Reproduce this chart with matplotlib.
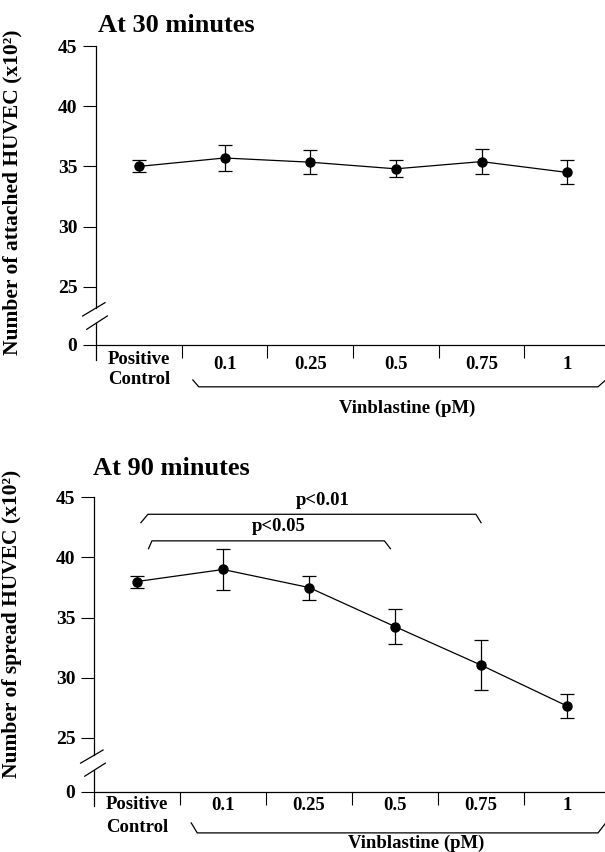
import matplotlib
matplotlib.use("Agg")
import matplotlib.pyplot as plt
import matplotlib.transforms as mtransforms

plt.rcParams["font.family"] = ["Liberation Serif", "DejaVu Serif"]
plt.rcParams["font.weight"] = "bold"
plt.rcParams["axes.labelweight"] = "bold"

categories = ["Positive\nControl", "0.1", "0.25", "0.5", "0.75", "1"]
attached_mean = [35.0, 35.7, 35.35, 34.8, 35.4, 34.5]
attached_err = [0.5, 1.05, 1.0, 0.7, 1.05, 1.0]
spread_mean = [38.0, 39.0, 37.5, 34.25, 31.05, 27.65]
spread_err = [0.5, 1.7, 1.0, 1.45, 2.1, 1.0]
ytick_vals = [25, 30, 35, 40, 45]

fig = plt.figure(figsize=(6.05, 8.52), dpi=100)


def draw_panel(rect, mean, err, title, ylabel, zero_pos, title_xy, lab):
    ax = fig.add_axes(rect)
    x = list(range(len(mean)))
    ax.errorbar(x, mean, yerr=err, color="black", lw=0.9, marker="o",
                ms=6.5, capsize=5, capthick=0.9, elinewidth=0.9)
    ax.set_xlim(-0.5, 5.5)
    ax.set_ylim(zero_pos, 45)

    for s in ["top", "right", "left"]:
        ax.spines[s].set_visible(False)
    ax.spines["bottom"].set_linewidth(0.9)

    ax.set_yticks([zero_pos] + ytick_vals)
    ax.set_yticklabels(["0"] + [str(v) for v in ytick_vals], fontsize=14)
    ax.set_xticks([0.5, 1.5, 2.5, 3.5, 4.5])
    ax.set_xticklabels([])
    ax.tick_params(axis="both", length=9.4, width=0.8, direction="out")
    ax.tick_params(axis="y", pad=4)

    # y axis with a break
    t = ax.transAxes
    ax.plot([0, 0], [1, 0.1236], color="black", lw=0.9, transform=t, clip_on=False)
    ax.plot([0, 0], [0.0725, -0.05], color="black", lw=0.9, transform=t, clip_on=False)
    ax.plot([-0.026, 0.0175], [0.097, 0.1415], color="black", lw=0.9, transform=t, clip_on=False)
    ax.plot([-0.018, 0.022], [0.0525, 0.097], color="black", lw=0.9, transform=t, clip_on=False)

    # category labels
    bt = mtransforms.blended_transform_factory(ax.transData, ax.transAxes)
    ax.text(0, lab["pos"], "Positive", ha="center", va="center", fontsize=13.5, transform=bt)
    ax.text(0, lab["ctrl"], "Control", ha="center", va="center", fontsize=13.5, transform=bt)
    for i, c in enumerate(categories[1:], start=1):
        ax.text(i, lab["num"], c, ha="center", va="center", fontsize=13.5, transform=bt)

    # brace under the vinblastine doses
    ax.plot([0.63, 0.70, 5.36, 5.45], [lab["b1"], lab["b2"], lab["b2"], lab["b1"]],
            color="black", lw=0.9, transform=bt, clip_on=False)
    ax.text(lab["vx"], lab["v"], "Vinblastine (pM)", ha="center", va="center",
            fontsize=13.5, transform=bt)

    fig.text(title_xy[0], title_xy[1], title, fontsize=19, ha="left", va="baseline")
    ax.set_ylabel(ylabel, fontsize=15.5)
    ax.yaxis.set_label_coords(lab["ylx"], lab["yly"])
    return ax


ax1 = draw_panel([0.1587, 0.5951, 0.8496, 0.3509], attached_mean, attached_err,
                 "At 30 minutes", "Number of attached HUVEC (x10²)", 20.17,
                 (98 / 605, 0.962),
                 dict(pos=-0.048, ctrl=-0.117, num=-0.064, b1=-0.117, b2=-0.140,
                      v=-0.211, vx=3.13, ylx=-0.143, yly=0.51))

ax2 = draw_panel([0.1554, 0.0708, 0.853, 0.3455], spread_mean, spread_err,
                 "At 90 minutes", "Number of spread HUVEC (x10²)", 20.53,
                 (93 / 605, 0.4425),
                 dict(pos=-0.045, ctrl=-0.121, num=-0.047, b1=-0.106, b2=-0.140,
                      v=-0.174, vx=3.24, ylx=-0.139, yly=0.57))

# significance brackets
ax2.plot([0.045, 0.127, 3.94, 4.00], [42.89, 43.59, 43.59, 42.89],
         color="black", lw=0.9, clip_on=False)
ax2.text(2.16, 44.75, "p<0.01", ha="center", va="center", fontsize=13.5)
ax2.plot([0.134, 0.173, 2.876, 2.946], [40.73, 41.38, 41.38, 40.73],
         color="black", lw=0.9, clip_on=False)
ax2.text(1.65, 42.6, "p<0.05", ha="center", va="center", fontsize=13.5)

fig.savefig("out.png", dpi=100)
